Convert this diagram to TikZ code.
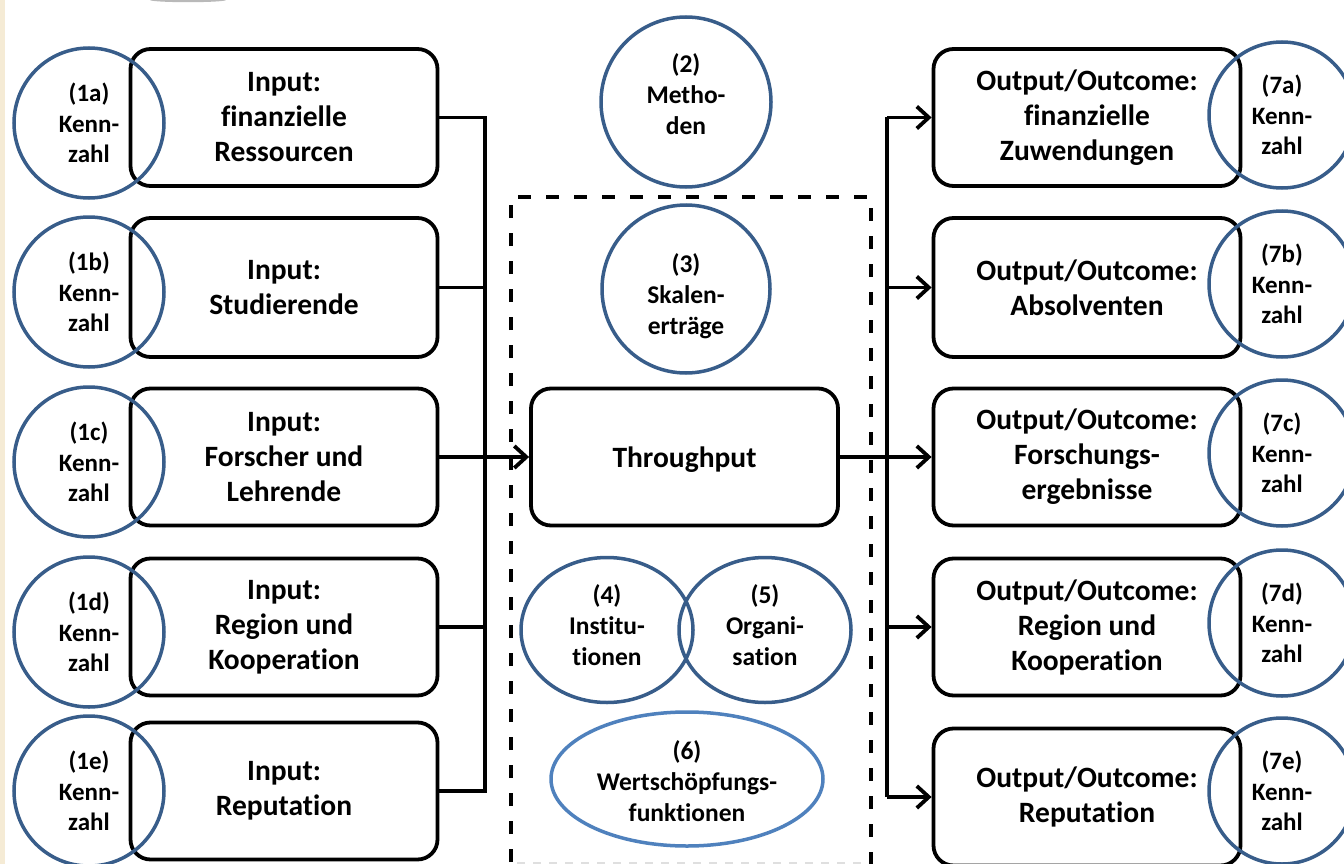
\documentclass[tikz,border=0pt]{standalone}
\usepackage{fontspec}
\setmainfont{Carlito}[Ligatures={NoCommon}]
\usetikzlibrary{arrows.meta,shapes.geometric}
\definecolor{kblue}{RGB}{56,93,138}
\definecolor{lblue}{RGB}{79,129,189}
\definecolor{beige}{RGB}{245,235,213}
\tikzset{
  box/.style={draw=black, line width=3.8pt, rounded corners=20pt, minimum width=307pt, minimum height=137pt, align=center, font=\fontsize{29.5}{35}\selectfont\bfseries, inner sep=0pt},
  kcirc/.style={draw=kblue, line width=3.5pt, circle, minimum size=150pt, align=center, font=\fontsize{25}{30.5}\selectfont\bfseries, inner sep=0pt},
  mell/.style={draw=kblue, line width=3.5pt, ellipse, inner sep=0pt},
  ctext/.style={align=center, font=\fontsize{25.5}{31}\selectfont\bfseries, inner sep=0pt},
  btext/.style={align=center, font=\fontsize{29.5}{35}\selectfont\bfseries, inner sep=0pt},
  conn/.style={draw=black, line width=3.8pt},
  arr/.style={conn, -{Straight Barb[length=12pt,width=22pt,line width=3.8pt]}},
}
\begin{document}
\begin{tikzpicture}[x=1pt,y=-1pt]
\useasboundingbox (0,0) rectangle (1344,864);
\fill[beige] (0,0) rectangle (5,864);
\fill[gray!55] (188,0) ellipse (38pt and 2.2pt);

% left boxes
\node[box] (i1) at (284,117.5) {Input:\\finanzielle\\Ressourcen};
\node[box, minimum height=139pt] (i2) at (284,287.5) {Input:\\Studierende};
\node[box] (i3) at (284,457) {Input:\\Forscher und\\Lehrende};
\node[box] (i4) at (284,627) {Input:\\Region und\\Kooperation};
\node[box] (i5) at (284,791) {Input:\\Reputation};

% left circles
\node[kcirc] (k1) at (89,123) {(1a)\\Kenn-\\zahl};
\node[kcirc] (k2) at (89,292) {(1b)\\Kenn-\\zahl};
\node[kcirc] (k3) at (89,462) {(1c)\\Kenn-\\zahl};
\node[kcirc] (k4) at (89,632) {(1d)\\Kenn-\\zahl};
\node[kcirc] (k5) at (89,791) {(1e)\\Kenn-\\zahl};

% right boxes
\node[box] (o1) at (1087,117.5) {Output/Outcome:\\finanzielle\\Zuwendungen};
\node[box, minimum height=139pt] (o2) at (1087,287.5) {Output/Outcome:\\Absolventen};
\node[box] (o3) at (1087,457) {Output/Outcome:\\Forschungs-\\ergebnisse};
\node[box] (o4) at (1087,627) {Output/Outcome:\\Region und\\Kooperation};
\node[box] (o5) at (1087,797) {Output/Outcome:\\Reputation};

% right circles
\node[kcirc, minimum size=146pt] (r1) at (1282,115) {(7a)\\Kenn-\\zahl};
\node[kcirc, minimum size=146pt] (r2) at (1282,284) {(7b)\\Kenn-\\zahl};
\node[kcirc, minimum size=146pt] (r3) at (1282,453) {(7c)\\Kenn-\\zahl};
\node[kcirc, minimum size=146pt] (r4) at (1282,623) {(7d)\\Kenn-\\zahl};
\node[kcirc, minimum size=146pt] (r5) at (1282,791) {(7e)\\Kenn-\\zahl};

% centre
\draw[black, line width=3.8pt, dash pattern=on 13pt off 15pt] (511,890) -- (511,197) -- (871,197) -- (871,890);
\draw[gray!25, line width=2pt, dash pattern=on 8pt off 8pt] (517,863) -- (868,863);
\node[mell, minimum size=170pt] (m2) at (686,102) {};
\node[ctext] (m2t) at (686,94) {(2)\\Metho-\\den};
\node[mell, minimum size=168pt] (m3) at (686,289) {};
\node[ctext] (m3t) at (686,296) {(3)\\Skalen-\\erträge};
\node[box] (tp) at (684.5,457) {};
\node[btext] (tpt) at (684.5,460) {Throughput};
\node[mell, minimum width=172pt, minimum height=145pt] (m4) at (607,630) {};
\node[ctext] (m4t) at (607,625) {(4)\\Institu-\\tionen};
\node[mell, minimum width=172pt, minimum height=145pt] (m5) at (765,630) {};
\node[ctext] (m5t) at (765,625) {(5)\\Organi-\\sation};
\node[mell, draw=lblue, minimum width=272pt, minimum height=134pt] (m6) at (687,779) {};
\node[ctext] (m6t) at (687,781) {(6)\\Wertschöpfungs-\\funktionen};

% connectors left
\coordinate (bl1) at (485,117.5);
\coordinate (bl5) at (485,791);
\draw[conn] (i1.east) -- (bl1) -- (bl5) -- (i5.east);
\draw[conn] (i2.east) -- (i2.east -| bl1);
\draw[conn] (i4.east) -- (i4.east -| bl1);
\draw[arr] (i3.east) -- (tp.west);

% connectors right
\coordinate (br1) at (887,117.5);
\coordinate (br5) at (887,797);
\draw[conn] (tp.east) -- (tp.east -| br1);
\draw[conn] (br1) -- (br5);
\draw[arr] (br1) -- (o1.west);
\draw[arr] (br1 |- o2.west) -- (o2.west);
\draw[arr] (br1 |- o3.west) -- (o3.west);
\draw[arr] (br1 |- o4.west) -- (o4.west);
\draw[arr] (br5) -- (o5.west);
\end{tikzpicture}
\end{document}
